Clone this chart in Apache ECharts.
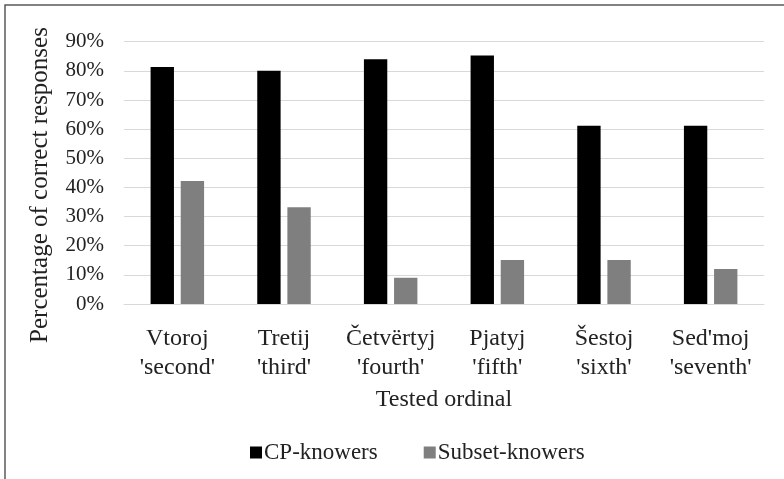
<!DOCTYPE html>
<html>
<head>
<meta charset="utf-8">
<script src="https://cdn.jsdelivr.net/npm/echarts@6/dist/echarts.min.js"></script>
<style>
  html, body { margin: 0; padding: 0; background: #fff; }
  #chart { width: 784px; height: 479px; }
</style>
</head>
<body>
<div id="chart"></div>
<script>
const categories = [
    "Vtoroj\n'second'",
    "Tretij\n'third'",
    "Četvërtyj\n'fourth'",
    "Pjatyj\n'fifth'",
    "Šestoj\n'sixth'",
    "Sed'moj\n'seventh'"
];
const cpKnowers = [81.3, 80.0, 84.0, 85.3, 61.2, 61.2];
const subsetKnowers = [42.2, 33.2, 9.0, 15.1, 15.1, 12.0];
const yTicks = [0, 10, 20, 30, 40, 50, 60, 70, 80, 90];

// 'Times New Roman' resolves to the metric-compatible Liberation Serif here
const font = 'Times New Roman';

let chart = echarts.init(document.getElementById('chart'), null, {renderer: 'canvas'});

let option = {
    animation: false,
    grid: { left: 124, right: 20, top: 41.7, bottom: 175 },
    legend: {
        left: 245,
        top: 436,
        itemWidth: 12,
        itemHeight: 12,
        itemGap: 46,
        icon: 'rect',
        textStyle: { fontFamily: font, fontSize: 23, color: '#222', padding: [0, 0, 0, -3] },
        data: ['CP-knowers', 'Subset-knowers']
    },
    xAxis: {
        type: 'category',
        data: categories,
        name: 'Tested ordinal',
        nameLocation: 'middle',
        nameGap: 84,
        nameTextStyle: { fontFamily: font, fontSize: 24, color: '#222' },
        axisLine: { lineStyle: { color: '#d9d9d9', width: 1 } },
        axisTick: { show: false },
        axisLabel: {
            fontFamily: font,
            fontSize: 24,
            color: '#222',
            lineHeight: 29,
            margin: 20,
            interval: 0
        }
    },
    yAxis: {
        type: 'value',
        min: yTicks[0],
        max: yTicks[yTicks.length - 1],
        interval: 10,
        axisLine: { show: false },
        axisTick: { show: false },
        splitLine: { lineStyle: { color: '#d9d9d9', width: 1 } },
        axisLabel: {
            fontFamily: font,
            fontSize: 21,
            color: '#222',
            margin: 20,
            formatter: v => v + '%'
        }
    },
    graphic: [
        {
            type: 'rect',
            shape: { x: 5, y: 5, width: 900, height: 600 },
            style: { fill: 'none', stroke: '#5a5a5a', lineWidth: 1.5 },
            silent: true
        },
        {
            type: 'text',
            x: 40,
            y: 185,
            rotation: Math.PI / 2,
            style: {
                text: 'Percentage of correct responses',
                fontFamily: font,
                fontSize: 25,
                fill: '#222',
                align: 'center',
                verticalAlign: 'middle'
            }
        }
    ],
    series: [
        {
            name: 'CP-knowers',
            type: 'bar',
            data: cpKnowers,
            barWidth: '21.9%',
            barGap: '29%',
            itemStyle: { color: '#000000' }
        },
        {
            name: 'Subset-knowers',
            type: 'bar',
            data: subsetKnowers,
            barWidth: '21.9%',
            itemStyle: { color: '#7f7f7f' }
        }
    ]
};

chart.setOption(option);
</script>
</body>
</html>
